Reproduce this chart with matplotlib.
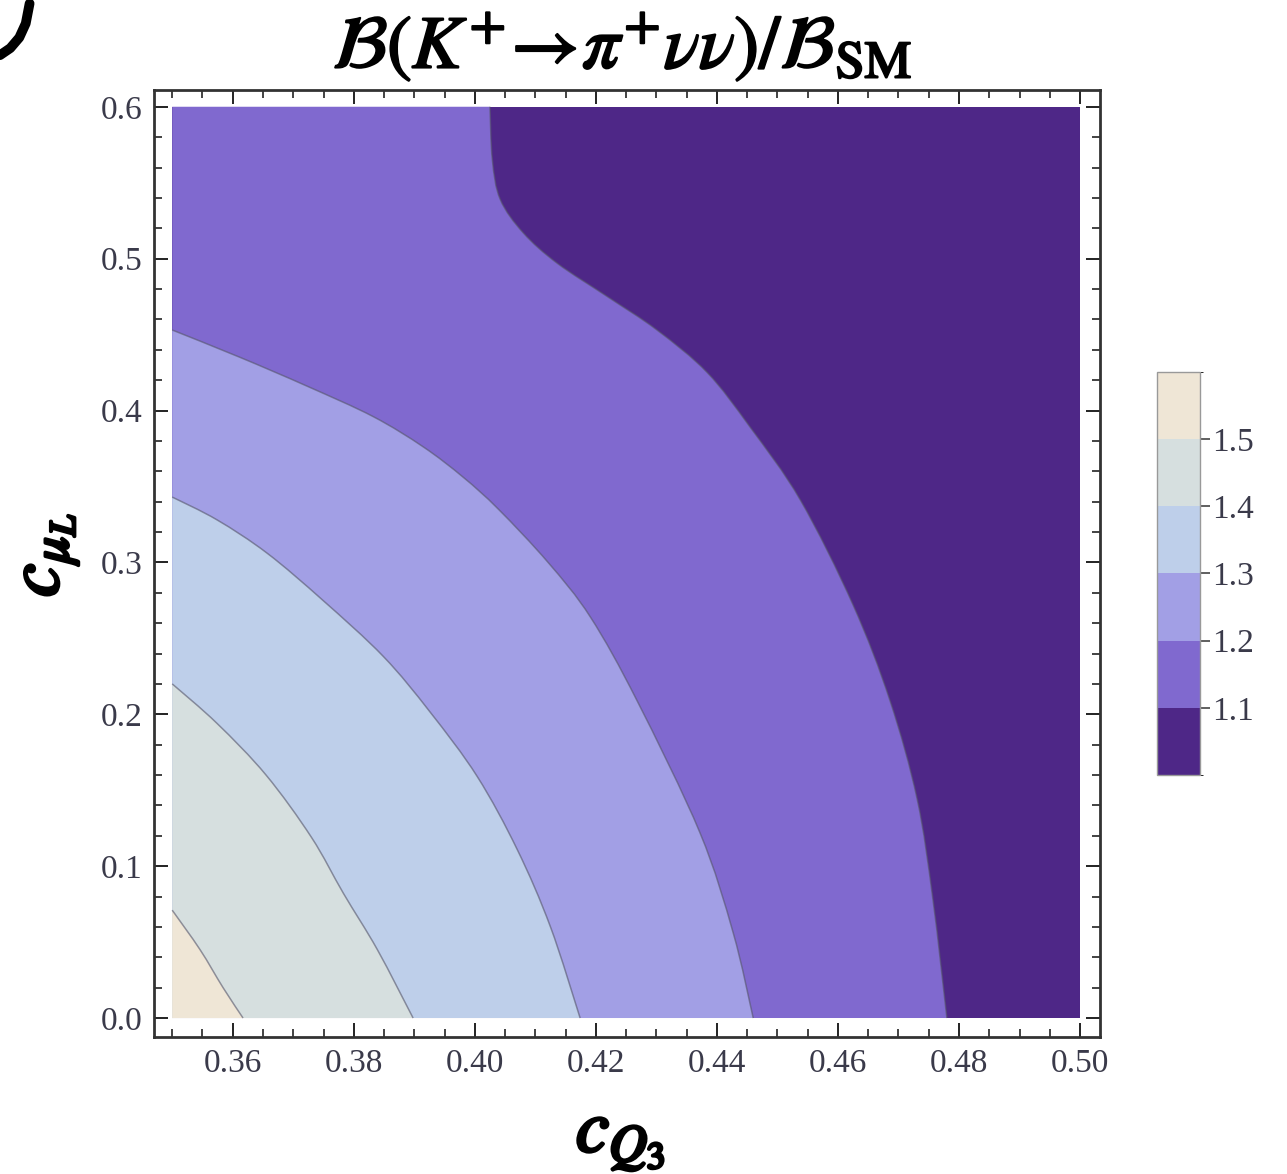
import numpy as np
import matplotlib
matplotlib.use('Agg')
import matplotlib.pyplot as plt
from matplotlib.colors import ListedColormap, BoundaryNorm
from matplotlib.cm import ScalarMappable
from matplotlib.ticker import MultipleLocator
from matplotlib.path import Path
from matplotlib.patches import PathPatch
from matplotlib.lines import Line2D
import matplotlib.patheffects as pe

plt.rcParams['font.family'] = ['Liberation Serif', 'DejaVu Serif']
plt.rcParams['mathtext.fontset'] = 'stix'

# plot domain
x_range = [0.35, 0.50]
y_range = [0.0, 0.6]

# contour levels and band colours (1.0-1.1 ... 1.5-1.6)
levels = [1.1, 1.2, 1.3, 1.4, 1.5]
bounds = [1.0, 1.1, 1.2, 1.3, 1.4, 1.5, 1.6]
band_colors = ['#4e2787', '#8069cf', '#a29fe5', '#becfea', '#d6dfdf', '#efe6d6']

# contour lines
c11_x = [0.4025, 0.4029, 0.4042, 0.4080, 0.4136, 0.4219, 0.4301, 0.4384,
         0.4455, 0.4538, 0.4625, 0.4686, 0.4731, 0.4757, 0.4780]
c11_y = [0.600, 0.565, 0.539, 0.517, 0.497, 0.475, 0.453, 0.425,
         0.389, 0.341, 0.272, 0.209, 0.144, 0.078, 0.0]

c12_x = [0.3500, 0.3612, 0.3723, 0.3832, 0.3915, 0.3981, 0.4039, 0.4121,
         0.4191, 0.4268, 0.4372, 0.4427, 0.4460]
c12_y = [0.453, 0.435, 0.416, 0.396, 0.376, 0.356, 0.335, 0.300,
         0.264, 0.209, 0.122, 0.056, 0.0]

c13_x = [0.3500, 0.3574, 0.3657, 0.3749, 0.3849, 0.3926, 0.4004, 0.4070,
         0.4125, 0.4174]
c13_y = [0.343, 0.328, 0.306, 0.275, 0.238, 0.2015, 0.159, 0.111,
         0.060, 0.0]

c14_x = [0.3500, 0.3574, 0.3655, 0.3730, 0.3783, 0.3839, 0.3898]
c14_y = [0.220, 0.194, 0.160, 0.119, 0.082, 0.045, 0.0]

c15_x = [0.3500, 0.3546, 0.3584, 0.3617]
c15_y = [0.071, 0.045, 0.020, 0.0]

contours = [(c11_x, c11_y), (c12_x, c12_y), (c13_x, c13_y),
            (c14_x, c14_y), (c15_x, c15_y)]


def smooth_curve(xs, ys):
    # draw the read points as a smooth bezier path (catmull-rom style)
    p = np.column_stack([xs, ys])
    n = len(p)
    verts = [p[0]]
    codes = [Path.MOVETO]
    for i in range(n - 1):
        p0 = p[max(i - 1, 0)]
        p1 = p[i]
        p2 = p[i + 1]
        p3 = p[min(i + 2, n - 1)]
        verts += [p1 + (p2 - p0) / 6.0, p2 - (p3 - p1) / 6.0, p2]
        codes += [Path.CURVE4] * 3
    return verts, codes


fig = plt.figure(figsize=(12.87, 11.74), dpi=100)
ax = fig.add_axes([0.1197, 0.1167, 0.735, 0.8066])

# base band over the whole domain
ax.fill([x_range[0], x_range[1], x_range[1], x_range[0]],
        [y_range[0], y_range[0], y_range[1], y_range[1]],
        color=band_colors[0], lw=0)

# each higher band covers the lower-left side of its contour
for i, (cx, cy) in enumerate(contours):
    verts, codes = smooth_curve(cx, cy)
    line = PathPatch(Path(verts, codes), fill=False, edgecolor='#55556a',
                     lw=1.1, alpha=0.6, zorder=3)
    verts = list(verts) + [(x_range[0], y_range[0])]
    codes = list(codes) + [Path.LINETO]
    if cy[0] >= y_range[1]:
        verts.append((x_range[0], y_range[1]))
        codes.append(Path.LINETO)
    verts.append(verts[0])
    codes.append(Path.CLOSEPOLY)
    ax.add_patch(PathPatch(Path(verts, codes), facecolor=band_colors[i + 1],
                           lw=0, zorder=2))
    ax.add_patch(line)

ax.set_xlim(0.347, 0.5033)
ax.set_ylim(-0.0125, 0.611)

ax.xaxis.set_minor_locator(MultipleLocator(0.005))
ax.yaxis.set_minor_locator(MultipleLocator(0.02))
ax.set_xticks([0.36, 0.38, 0.40, 0.42, 0.44, 0.46, 0.48, 0.50])
ax.set_xticklabels(['0.36', '0.38', '0.40', '0.42', '0.44', '0.46', '0.48', '0.50'])
ax.set_yticks([0.0, 0.1, 0.2, 0.3, 0.4, 0.5, 0.6])
ax.set_yticklabels(['0.0', '0.1', '0.2', '0.3', '0.4', '0.5', '0.6'])

ax.tick_params(which='both', direction='in', top=True, right=True,
               color='#222222', labelcolor='#3a3a4a', labelsize=24)
ax.tick_params(which='major', length=10, width=1.4)
ax.tick_params(which='minor', length=6, width=1.2)
ax.tick_params(axis='x', pad=8)
ax.tick_params(axis='y', pad=8)
for s in ax.spines.values():
    s.set_color('#333333')
    s.set_linewidth(2.0)

# title and axis labels
fig.text(0.4836, 0.960,
         r'$\mathcal{B}(K^{+}\!\rightarrow\!\pi^{+}\nu\nu)/\mathcal{B}_{\mathrm{SM}}$',
         ha='center', va='center', fontsize=54,
         path_effects=[pe.withStroke(linewidth=1.5, foreground='black')])
fig.text(0.037, 0.527, r'$c_{\mu_L}$', rotation=90, ha='center', va='center',
         fontsize=54, path_effects=[pe.withStroke(linewidth=2.5, foreground='black')])
fig.text(0.482, 0.029, r'$c_{Q_3}$', ha='center', va='center',
         fontsize=54, path_effects=[pe.withStroke(linewidth=2.5, foreground='black')])

# stray stroke cut off at the top-left corner of the page
fig.add_artist(Line2D([0.0, 0.008, 0.015, 0.020, 0.023],
                      [0.953, 0.959, 0.968, 0.980, 0.997],
                      transform=fig.transFigure, color='black', lw=7,
                      solid_capstyle='round'))

# colour bar
cax = fig.add_axes([0.899, 0.3399, 0.0334, 0.3433])
sm = ScalarMappable(norm=BoundaryNorm(bounds, len(band_colors)),
                    cmap=ListedColormap(band_colors))
cb = fig.colorbar(sm, cax=cax, ticks=levels)
cb.ax.set_yticklabels(['1.1', '1.2', '1.3', '1.4', '1.5'])
cb.ax.tick_params(length=7, width=1.2, color='#444444', labelcolor='#3a3a4a',
                  labelsize=24, pad=2)
cb.outline.set_edgecolor('#999999')
cb.outline.set_linewidth(1.0)

fig.savefig('out.png', dpi=100)
